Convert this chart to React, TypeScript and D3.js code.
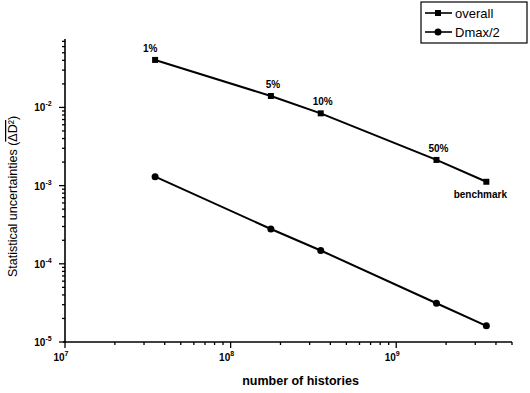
import React, { useEffect, useRef } from "react";
import * as d3 from "d3";

const histories = [3.5e7, 1.75e8, 3.5e8, 1.75e9, 3.5e9];
const overall = [4.05e-2, 1.4e-2, 8.4e-3, 2.13e-3, 1.12e-3];
const dmaxHalf = [1.3e-3, 2.79e-4, 1.48e-4, 3.13e-5, 1.61e-5];
const pointLabels = ["1%", "5%", "10%", "50%", "benchmark"];
const xTickExps = [7, 8, 9];
const yTickExps = [-2, -3, -4, -5];

function App() {
  const width = 530;
  const height = 393;
  const margin = { top: 39, right: 18, bottom: 51, left: 65 };
  const ref = useRef<SVGSVGElement>(null);

  useEffect(() => {
    const svg = d3.select(ref.current);
    svg.selectAll("*").remove();

    const x = d3
      .scaleLog()
      .domain([1e7, 5e9])
      .range([margin.left, width - margin.right]);
    const y = d3
      .scaleLog()
      .domain([1e-5, 0.075])
      .range([height - margin.bottom, margin.top]);

    const font = "Arial, 'Liberation Sans', sans-serif";

    // minor + major ticks
    const minor = (dom: number[]) => {
      const out: number[] = [];
      for (let e = Math.floor(Math.log10(dom[0])); e <= Math.ceil(Math.log10(dom[1])); e++) {
        for (let m = 1; m < 10; m++) {
          const v = m * Math.pow(10, e);
          if (v >= dom[0] * 0.999 && v <= dom[1] * 1.001) out.push(v);
        }
      }
      return out;
    };

    const xMinor = minor(x.domain() as number[]);
    const yMinor = minor(y.domain() as number[]);
    const isMajor = (v: number) => Math.abs(Math.log10(v) - Math.round(Math.log10(v))) < 1e-6;

    const gx = svg.append("g").attr("transform", `translate(0,${height - margin.bottom})`);
    gx.append("line")
      .attr("x1", margin.left - 2)
      .attr("x2", width - margin.right)
      .attr("stroke", "#000")
      .attr("stroke-width", 1.6);
    gx.selectAll(".tk")
      .data(xMinor)
      .join("line")
      .attr("x1", (d) => x(d))
      .attr("x2", (d) => x(d))
      .attr("y1", 0)
      .attr("y2", (d) => (isMajor(d) ? 6 : 3))
      .attr("stroke", "#000")
      .attr("stroke-width", 1.3);

    const gy = svg.append("g").attr("transform", `translate(${margin.left},0)`);
    gy.append("line")
      .attr("y1", margin.top)
      .attr("y2", height - margin.bottom + 1)
      .attr("stroke", "#000")
      .attr("stroke-width", 1.6);
    gy.selectAll(".tk")
      .data(yMinor)
      .join("line")
      .attr("y1", (d) => y(d))
      .attr("y2", (d) => y(d))
      .attr("x1", 0)
      .attr("x2", (d) => (isMajor(d) ? -6 : -3))
      .attr("stroke", "#000")
      .attr("stroke-width", 1.3);

    // tick labels
    const xl = svg
      .selectAll(".xl")
      .data(xTickExps)
      .join("text")
      .attr("x", (d) => x(Math.pow(10, d)) - 4)
      .attr("y", height - margin.bottom + 19)
      .attr("text-anchor", "middle")
      .attr("font-family", font)
      .attr("font-weight", "bold")
      .attr("font-size", 10);
    xl.append("tspan").text("10");
    xl.append("tspan").attr("dy", -5).attr("font-size", 7).text((d) => d);

    const yl = svg
      .selectAll(".yl")
      .data(yTickExps)
      .join("text")
      .attr("x", margin.left - 22)
      .attr("y", (d) => y(Math.pow(10, d)) + 4)
      .attr("text-anchor", "middle")
      .attr("font-family", font)
      .attr("font-weight", "bold")
      .attr("font-size", 10);
    yl.append("tspan").text("10");
    yl.append("tspan").attr("dy", -5).attr("font-size", 7).text((d) => d);

    // axis titles
    svg
      .append("text")
      .attr("x", (margin.left + width - margin.right) / 2 + 12)
      .attr("y", height - 8)
      .attr("text-anchor", "middle")
      .attr("font-family", font)
      .attr("font-weight", "bold")
      .attr("font-size", 12.5)
      .text("number of histories");

    const yt = svg
      .append("text")
      .attr("transform", `translate(17,${(margin.top + height - margin.bottom) / 2 + 6}) rotate(-90)`)
      .attr("text-anchor", "middle")
      .attr("font-family", font)
      .attr("font-size", 12.5);
    yt.append("tspan").text("Statistical uncertainties (");
    yt.append("tspan").style("text-decoration", "overline").text("ΔD²");
    yt.append("tspan").text(")");

    // series
    const line = d3
      .line<number>()
      .x((_, i) => x(histories[i]))
      .y((d) => y(d));

    svg.append("path")
      .datum(overall)
      .attr("d", line)
      .attr("fill", "none")
      .attr("stroke", "#000")
      .attr("stroke-width", 2);
    svg.append("path")
      .datum(dmaxHalf)
      .attr("d", line)
      .attr("fill", "none")
      .attr("stroke", "#000")
      .attr("stroke-width", 2);

    svg.selectAll(".sq")
      .data(overall)
      .join("rect")
      .attr("x", (_, i) => x(histories[i]) - 3)
      .attr("y", (d) => y(d) - 3)
      .attr("width", 6)
      .attr("height", 6)
      .attr("fill", "#000");
    svg.selectAll(".ci")
      .data(dmaxHalf)
      .join("circle")
      .attr("cx", (_, i) => x(histories[i]))
      .attr("cy", (d) => y(d))
      .attr("r", 3.5)
      .attr("fill", "#000");

    // point labels
    svg.selectAll(".pl")
      .data(pointLabels)
      .join("text")
      .attr("x", (_, i) => x(histories[i]) + (i === 4 ? -6 : i === 0 ? -5 : 2))
      .attr("y", (_, i) => y(overall[i]) + (i === 4 ? 16 : -8))
      .attr("text-anchor", "middle")
      .attr("font-family", font)
      .attr("font-weight", "bold")
      .attr("font-size", 10)
      .text((d) => d);

    // legend
    const lg = svg.append("g");
    lg.append("rect")
      .attr("x", 421)
      .attr("y", 2)
      .attr("width", 106)
      .attr("height", 41)
      .attr("fill", "#fff")
      .attr("stroke", "#000")
      .attr("stroke-width", 1.2);
    const items = [
      { name: "overall", cy: 13, shape: "square" },
      { name: "Dmax/2", cy: 32, shape: "circle" },
    ];
    items.forEach((it) => {
      lg.append("line")
        .attr("x1", 425)
        .attr("x2", 452)
        .attr("y1", it.cy)
        .attr("y2", it.cy)
        .attr("stroke", "#000")
        .attr("stroke-width", 1.6);
      if (it.shape === "square") {
        lg.append("rect").attr("x", 435).attr("y", it.cy - 3).attr("width", 6).attr("height", 6);
      } else {
        lg.append("circle").attr("cx", 438).attr("cy", it.cy).attr("r", 3.5);
      }
      lg.append("text")
        .attr("x", 455)
        .attr("y", it.cy + 4.5)
        .attr("font-family", font)
        .attr("font-size", 13)
        .text(it.name);
    });
  }, []);

  return (
    <svg
      ref={ref}
      width={width}
      height={height}
      style={{ position: "absolute", left: 0, top: 0, background: "#fff" }}
    />
  );
}

export default App;
